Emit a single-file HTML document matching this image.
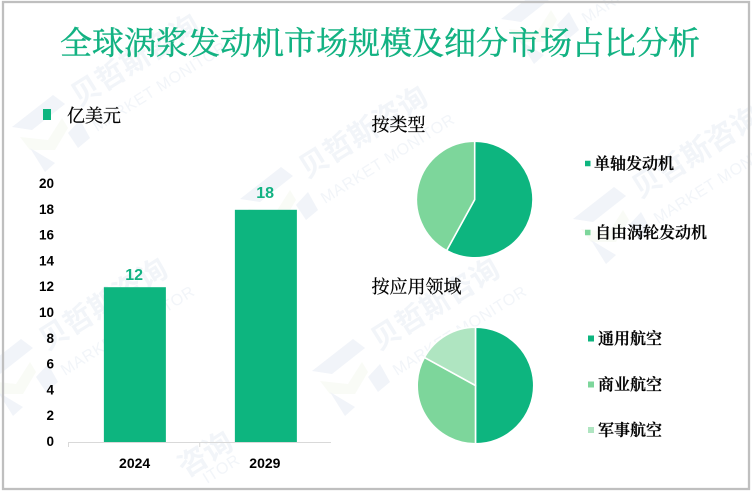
<!DOCTYPE html>
<html lang="zh">
<head>
<meta charset="utf-8">
<title>全球涡浆发动机市场规模及细分市场占比分析</title>
<style>
html,body{margin:0;padding:0;background:#fff;width:752px;height:492px;overflow:hidden}
svg{display:block;overflow:hidden}
.cjk{font-family:"Liberation Serif","Noto Serif CJK SC",serif;fill:#000;stroke:#000;stroke-width:.25px}
.num{font-family:"Liberation Sans","Noto Sans CJK SC",sans-serif;font-weight:700}
.wm-t{font-family:"Liberation Sans","Noto Sans CJK SC",sans-serif;font-weight:700;font-size:29px;fill:#f2f5f9}
.wm-m{font-family:"Liberation Sans",sans-serif;font-size:16px;letter-spacing:.6px;fill:#f2f5f9}
</style>
</head>
<body>
<svg id="chart" xmlns="http://www.w3.org/2000/svg" width="752" height="492" viewBox="0 0 752 492">
  <defs><clipPath id="frame-clip"><rect x="0" y="0" width="752" height="492"/></clipPath></defs>
  <rect x="0" y="0" width="752" height="492" fill="#fff"/>
  <g id="watermarks" clip-path="url(#frame-clip)">
    <text class="wm-t" x="0" y="0" transform="translate(186 478) rotate(-32)">咨询</text>
    <text class="wm-m" x="0" y="0" transform="translate(207 484) rotate(-32)">ITOR</text>
  </g>
  <rect x="3" y="2" width="746" height="487" fill="none" stroke="#bfbfbf" stroke-width="2.3"/>
  <text class="cjk" x="380" y="54" text-anchor="middle" font-size="32" style="fill:#12b282;stroke:#12b282;stroke-width:.45px">全球涡浆发动机市场规模及细分市场占比分析</text>

  <rect x="43" y="109" width="8" height="11" fill="#0db57f"/>
  <text class="cjk" x="67" y="122" font-size="18">亿美元</text>

  <g id="bar-chart"></g>

  <text class="cjk" x="371.5" y="131" font-size="18">按类型</text>
  <g id="pie-type"></g>
  <g id="legend-type"></g>

  <text class="cjk" x="371.5" y="293" font-size="18">按应用领域</text>
  <g id="pie-app"></g>
  <g id="legend-app"></g>
</svg>
<script>
const barCategories = ['2024', '2029'];
const barValues = [12, 18];
const yTicks = [0, 2, 4, 6, 8, 10, 12, 14, 16, 18, 20];
const typeLabels = ['单轴发动机', '自由涡轮发动机'];
const typeValues = [58, 42];
const appLabels = ['通用航空', '商业航空', '军事航空'];
const appValues = [50, 33, 17];
const sliceColors = ['#0db57f', '#7dd69b', '#afe5c1'];
const wmOffsets = [[0,0],[228,72],[489,-108],[561,92],[-32,244],[300,244]];

const NS = 'http://www.w3.org/2000/svg';
function mk(parent, tag, attrs, txt) {
  const e = document.createElementNS(NS, tag);
  for (const k in attrs) e.setAttribute(k, attrs[k]);
  if (txt !== undefined) e.textContent = txt;
  parent.appendChild(e);
  return e;
}

/* watermarks */
const wmRoot = document.getElementById('watermarks');
wmOffsets.forEach(function (o) {
  const g = mk(wmRoot, 'g', {transform: 'translate(' + o[0] + ' ' + o[1] + ')'});
  
  
  mk(g, 'polygon', {points: '20,137 48,140 62,118 68,128 55,150 30,150', fill: '#f9fbf6'});
  mk(g, 'polygon', {points: '12,127 53,95 65,104 32,130', fill: '#f1f4f9'});
  mk(g, 'polygon', {points: '30,148 55,163 45,172', fill: '#f1f4f9'});
  mk(g, 'polygon', {points: '68,133 80,120 90,138 78,148', fill: '#f1f4f9'});
  const t = mk(g, 'text', {'class': 'wm-t', x: 0, y: 0, transform: 'translate(79 107) rotate(-32)'}, '贝哲斯咨询');
  
  
  const m = mk(g, 'text', {'class': 'wm-m', x: 0, y: 0, transform: 'translate(97 132) rotate(-32)'}, 'MARKET MONITOR');
  
  
});

/* bar chart */
const barRoot = document.getElementById('bar-chart');
const axisBase = 442, unitPx = 12.9, plotLeft = 68.5, plotRight = 331, barW = 62;
const labelGaps = [7, 12];
const yScale = function (v) { return axisBase - v * unitPx; };
const bandW = (plotRight - plotLeft) / barCategories.length;
const xCenter = function (i) { return plotLeft + bandW * (i + 0.5); };

yTicks.forEach(function (t) {
  const l = mk(barRoot, 'text', {'class': 'num', x: 54, y: yScale(t) + 4, 'text-anchor': 'end', 'font-size': 13.5, fill: '#000'}, String(t));
  
  
});
barValues.forEach(function (v, i) {
  const cx = xCenter(i);
  const b = mk(barRoot, 'rect', {x: cx - barW / 2 + 0.75 - i * 0.25, y: yScale(v), width: barW, height: axisBase - yScale(v), fill: '#0db57f'});
  
  
  const d = mk(barRoot, 'text', {'class': 'num', x: cx - 0.2 * i, y: yScale(v) - labelGaps[i], 'text-anchor': 'middle', 'font-size': 16, fill: '#12b282'}, String(v));
  
  
  const c = mk(barRoot, 'text', {'class': 'num', x: cx + 0.5 - i, y: 468, 'text-anchor': 'middle', 'font-size': 14, fill: '#000'}, barCategories[i]);
  
  
});
const axisLine = mk(barRoot, 'line', {x1: plotLeft, x2: plotRight, y1: axisBase + 0.5, y2: axisBase + 0.5, stroke: '#d9d9d9', 'stroke-width': 1});


[0, 1].forEach(function (i) {
  const x = plotLeft + bandW * i;
  const tk = mk(barRoot, 'line', {x1: x, x2: x, y1: axisBase, y2: axisBase + 5, stroke: '#d9d9d9', 'stroke-width': 1});
  
  
});

/* pies */
function drawPie(rootId, values, labels, cx, cy, r) {
  const root = document.getElementById(rootId);
  const total = values.reduce(function (a, b) { return a + b; }, 0);
  let acc = 0;
  values.forEach(function (v, i) {
    const a0 = acc / total * 2 * Math.PI;
    acc += v;
    const a1 = acc / total * 2 * Math.PI;
    const x0 = cx + r * Math.sin(a0), y0 = cy - r * Math.cos(a0);
    const x1 = cx + r * Math.sin(a1), y1 = cy - r * Math.cos(a1);
    const large = (a1 - a0) > Math.PI ? 1 : 0;
    const p = mk(root, 'path', {
      d: 'M' + cx + ' ' + cy + 'L' + x0 + ' ' + y0 + 'A' + r + ' ' + r + ' 0 ' + large + ' 1 ' + x1 + ' ' + y1 + 'Z',
      fill: sliceColors[i], stroke: '#fff', 'stroke-width': 1.6, 'stroke-linejoin': 'miter'
    });
    
    
  });
}
drawPie('pie-type', typeValues, typeLabels, 474.7, 199.5, 58.3);
drawPie('pie-app', appValues, appLabels, 475.5, 385.5, 58.3);

/* legends */
function drawLegend(rootId, labels, swatchX, swatchSize, textXs, centers) {
  const root = document.getElementById(rootId);
  labels.forEach(function (lab, i) {
    const s = mk(root, 'rect', {x: swatchX, y: centers[i] - swatchSize / 2, width: swatchSize, height: swatchSize, fill: sliceColors[i]});
    
    
    const t = mk(root, 'text', {'class': 'cjk', x: textXs[i], y: centers[i] + 5.5, 'font-size': 16, 'font-weight': 600}, lab);
    
    
  });
}
drawLegend('legend-type', typeLabels, 585, 5.5, [594, 595], [163.5, 232.5]);
drawLegend('legend-app', appLabels, 588, 6, [598, 598, 598], [338.5, 384.5, 430]);
</script>
</body>
</html>
